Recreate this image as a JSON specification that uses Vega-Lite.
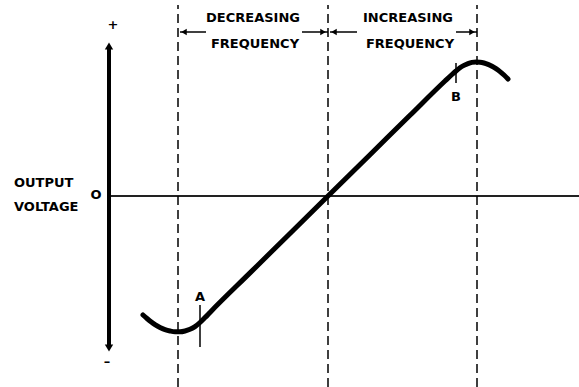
{
  "$schema": "https://vega.github.io/schema/vega-lite/v6.json",
  "width": 579,
  "height": 387,
  "padding": 0,
  "autosize": {"type": "none"},
  "background": "white",
  "config": {"view": {"stroke": null}},
  "encoding": {
    "x": {"type": "quantitative", "scale": {"domain": [0, 579], "nice": false, "zero": false}, "axis": null},
    "y": {"type": "quantitative", "scale": {"domain": [-191, 196], "nice": false, "zero": false}, "axis": null}
  },
  "layer": [
    {
      "data": {"values": [{"x": 109, "x2": 579, "v": 0}]},
      "mark": {"type": "rule", "stroke": "#222", "strokeWidth": 2},
      "encoding": {"x": {"field": "x"}, "x2": {"field": "x2"}, "y": {"field": "v"}}
    },
    {
      "data": {"values": [{"x": 109, "v": -152, "v2": 150}]},
      "mark": {"type": "rule", "stroke": "black", "strokeWidth": 4},
      "encoding": {"x": {"field": "x"}, "y": {"field": "v"}, "y2": {"field": "v2"}}
    },
    {
      "data": {"values": [{"x": 109, "v": 150, "dir": "up"}, {"x": 109, "v": -152, "dir": "down"}]},
      "mark": {"type": "point", "filled": true, "color": "black", "opacity": 1, "size": 70},
      "encoding": {
        "x": {"field": "x"}, "y": {"field": "v"},
        "shape": {"field": "dir", "type": "nominal", "scale": {"domain": ["up", "down", "left", "right"], "range": ["triangle-up", "triangle-down", "triangle-left", "triangle-right"]}, "legend": null}
      }
    },
    {
      "data": {"values": [{"x": 178, "v": -191, "v2": 191}, {"x": 328, "v": -191, "v2": 191}, {"x": 477, "v": -191, "v2": 191}]},
      "mark": {"type": "rule", "stroke": "black", "strokeWidth": 1.5, "strokeDash": [9, 5]},
      "encoding": {"x": {"field": "x"}, "y": {"field": "v"}, "y2": {"field": "v2"}}
    },
    {
      "data": {"values": [
        {"x": 143, "v": -119}, {"x": 147, "v": -122.5}, {"x": 151, "v": -125.8}, {"x": 155, "v": -128.7},
        {"x": 160, "v": -131.5}, {"x": 165, "v": -133.6}, {"x": 170, "v": -135}, {"x": 175, "v": -135.8},
        {"x": 180, "v": -135.8}, {"x": 185, "v": -135}, {"x": 190, "v": -133.3}, {"x": 195, "v": -130.6},
        {"x": 200, "v": -126.5}, {"x": 205, "v": -121.6}, {"x": 210, "v": -116.4},
        {"x": 250, "v": -76.9}, {"x": 290, "v": -37.5}, {"x": 328, "v": 0}, {"x": 370, "v": 41.3},
        {"x": 410, "v": 80.7}, {"x": 445, "v": 115}, {"x": 452, "v": 121.5}, {"x": 456, "v": 125},
        {"x": 460, "v": 128.2}, {"x": 464, "v": 130.6}, {"x": 468, "v": 132.4}, {"x": 472, "v": 133.6},
        {"x": 476, "v": 134}, {"x": 480, "v": 133.8}, {"x": 484, "v": 133}, {"x": 488, "v": 131.6},
        {"x": 492, "v": 129.7}, {"x": 496, "v": 127.3}, {"x": 500, "v": 124.4}, {"x": 504, "v": 121},
        {"x": 508, "v": 117}
      ]},
      "mark": {"type": "line", "color": "black", "strokeWidth": 5, "interpolate": "monotone", "strokeCap": "round"},
      "encoding": {"x": {"field": "x"}, "y": {"field": "v"}}
    },
    {
      "data": {"values": [{"x": 200, "v": -151, "v2": -109}, {"x": 456, "v": 113, "v2": 133}]},
      "mark": {"type": "rule", "stroke": "black", "strokeWidth": 1.5},
      "encoding": {"x": {"field": "x"}, "y": {"field": "v"}, "y2": {"field": "v2"}}
    },
    {
      "data": {"values": [{"x": 180, "x2": 206, "v": 164}, {"x": 302, "x2": 328, "v": 164}, {"x": 330, "x2": 357, "v": 164}, {"x": 456, "x2": 477, "v": 164}]},
      "mark": {"type": "rule", "stroke": "black", "strokeWidth": 1.5},
      "encoding": {"x": {"field": "x"}, "x2": {"field": "x2"}, "y": {"field": "v"}}
    },
    {
      "data": {"values": [{"x": 184, "v": 164, "dir": "left"}, {"x": 323, "v": 164, "dir": "right"}, {"x": 334, "v": 164, "dir": "left"}, {"x": 472, "v": 164, "dir": "right"}]},
      "mark": {"type": "point", "filled": true, "color": "black", "opacity": 1, "size": 40},
      "encoding": {
        "x": {"field": "x"}, "y": {"field": "v"},
        "shape": {"field": "dir", "type": "nominal", "scale": {"domain": ["up", "down", "left", "right"], "range": ["triangle-up", "triangle-down", "triangle-left", "triangle-right"]}, "legend": null}
      }
    },
    {
      "data": {"values": [
        {"x": 253, "v": 178, "label": "DECREASING"},
        {"x": 255, "v": 152, "label": "FREQUENCY"},
        {"x": 408, "v": 178, "label": "INCREASING"},
        {"x": 410, "v": 152, "label": "FREQUENCY"},
        {"x": 200, "v": -101, "label": "A"},
        {"x": 456, "v": 99, "label": "B"},
        {"x": 113, "v": 171, "label": "+"},
        {"x": 107, "v": -166, "label": "–"},
        {"x": 96, "v": 1, "label": "O"}
      ]},
      "mark": {"type": "text", "font": "DejaVu Sans", "fontSize": 13, "fontWeight": "bold", "color": "black", "align": "center", "baseline": "middle"},
      "encoding": {"x": {"field": "x"}, "y": {"field": "v"}, "text": {"field": "label"}}
    },
    {
      "data": {"values": [
        {"x": 14, "v": 13, "label": "OUTPUT"},
        {"x": 14, "v": -11, "label": "VOLTAGE"}
      ]},
      "mark": {"type": "text", "font": "DejaVu Sans", "fontSize": 13, "fontWeight": "bold", "color": "black", "align": "left", "baseline": "middle"},
      "encoding": {"x": {"field": "x"}, "y": {"field": "v"}, "text": {"field": "label"}}
    }
  ]
}
